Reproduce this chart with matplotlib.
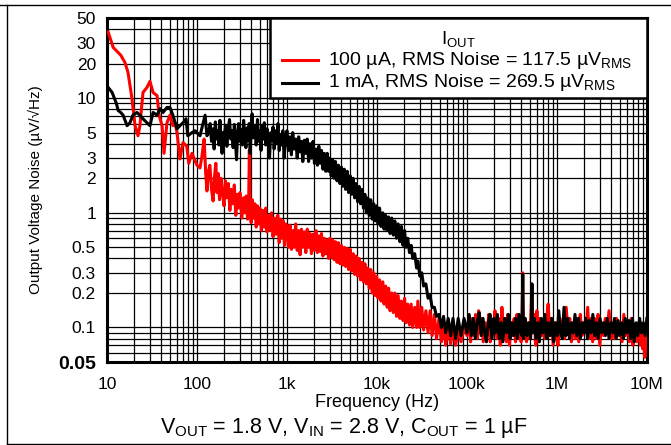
import matplotlib
matplotlib.use("Agg")
import matplotlib.pyplot as plt
from matplotlib.lines import Line2D
from matplotlib.patches import Rectangle
from matplotlib.ticker import FixedLocator, FixedFormatter, LogLocator, NullFormatter

plt.rcParams["font.family"] = ["Liberation Sans", "DejaVu Sans"]
plt.rcParams["mathtext.fontset"] = "custom"
plt.rcParams["mathtext.rm"] = "Liberation Sans"
plt.rcParams["mathtext.it"] = "Liberation Sans:italic"

# --- 100 uA trace (frequency Hz, noise uV/rtHz) ---
f_100ua = [10.3, 11.7, 14.2, 15.8, 17.1, 18.9, 20.5, 22.1, 23.2, 25.1, 27.8, 30, 32.5, 36, 37.9,
           40.9, 43, 46.4, 50, 54, 57, 60, 64.6, 70, 77, 81, 88, 100,
           108, 114, 120, 125, 129, 134, 139, 145, 151, 156, 162, 167, 172, 178, 185, 192, 200,
           207, 215, 223, 232, 240, 250, 260, 270, 280, 290, 300, 315, 328, 340, 352, 365, 375,
           382, 390, 400, 412, 425, 440, 455, 470, 485, 500, 520, 540, 560, 580, 600, 625, 650,
           675, 700, 730, 760, 790, 820, 850, 880, 910, 940, 970,
           1000, 1040, 1080, 1120, 1160, 1200, 1250, 1300, 1350, 1400, 1450, 1500, 1560, 1620,
           1680, 1740, 1800, 1870, 1950, 2020, 2100, 2180, 2260, 2340, 2420, 2510, 2600, 2700,
           2800, 2900, 3000, 3100, 3220, 3340, 3460, 3600, 3740, 3880, 4030, 4180, 4340, 4500,
           4680, 4860, 5050, 5250, 5450, 5650, 5870, 6100, 6330, 6570, 6820, 7080, 7350, 7630,
           7920, 8220, 8540, 8870, 9210, 9560, 9930, 10300, 10700, 11100, 11600, 12000, 12500,
           13000, 13500, 14000, 14600, 15200, 15800, 16500, 17200, 18000, 18700, 19500, 20300,
           21100, 22000, 23000, 24000, 25000, 26300, 27600, 28500, 30000, 31500, 33000, 35000,
           37000, 39000, 41000, 43500, 46000, 49000, 52000, 55000, 58000, 62000, 66000, 70000,
           75000, 80000, 86000, 93000,
           100e3, 105e3, 110e3, 115e3, 120e3, 125e3, 130e3, 135e3, 140e3, 145e3, 152e3, 160e3,
           167e3, 175e3, 182e3, 190e3, 197e3, 205e3, 215e3, 225e3, 235e3, 245e3, 255e3, 265e3,
           275e3, 285e3, 297e3, 310e3, 322e3, 335e3, 347e3, 360e3, 375e3, 390e3, 400e3, 410e3,
           417e3, 425e3, 442e3, 460e3, 480e3, 500e3, 515e3, 528e3, 540e3, 560e3, 580e3, 600e3,
           620e3, 650e3, 680e3, 710e3, 740e3, 770e3, 800e3, 835e3, 870e3, 910e3, 950e3, 990e3,
           1.03e6, 1.08e6, 1.12e6, 1.17e6, 1.22e6, 1.27e6, 1.33e6, 1.39e6, 1.45e6, 1.52e6,
           1.6e6, 1.67e6, 1.75e6, 1.82e6, 1.9e6, 2.0e6, 2.1e6, 2.2e6, 2.3e6, 2.4e6, 2.5e6,
           2.62e6, 2.75e6, 2.87e6, 3.0e6, 3.15e6, 3.3e6, 3.45e6, 3.6e6, 3.8e6, 4.0e6, 4.2e6,
           4.4e6, 4.6e6, 4.8e6, 5.05e6, 5.3e6, 5.55e6, 5.8e6, 6.1e6, 6.4e6, 6.7e6, 7.0e6, 7.35e6,
           7.7e6, 8.1e6, 8.5e6, 8.8e6, 9.0e6, 9.3e6, 9.5e6, 9.8e6, 10e6]
n_100ua = [37.7, 27.7, 23.7, 20.5, 16.8, 10, 5.75, 4.7, 5.75, 11.2, 12.4, 14.0, 11.2, 10.5, 7.1,
           5.75, 3.3, 6.1, 7.1, 5.75, 6.1, 5.0, 2.95, 4.1, 3.8, 2.7, 3.3, 2.6,
           2.46, 3.2, 4.4, 2.2, 1.55, 2.3, 2.6, 1.6, 1.27, 2.0, 2.7, 1.5, 2.2, 1.3, 2.0, 1.5, 1.15,
           1.9, 1.35, 1.8, 1.05, 1.6, 1.2, 1.75, 0.95, 1.45, 1.1, 1.5, 0.9, 1.35, 1.0, 1.4, 0.88, 1.2,
           3.5, 1.1, 0.82, 1.3, 0.9, 1.2, 0.75, 1.15, 0.8, 1.1, 0.7, 1.05, 0.75, 1.1, 0.68, 0.95, 0.7,
           1.0, 0.62, 0.9, 0.65, 0.95, 0.55, 0.88, 0.6, 0.85, 0.52, 0.8,
           0.72, 0.5, 0.78, 0.48, 0.7, 0.5, 0.8, 0.47, 0.7, 0.43, 0.72, 0.5, 0.68, 0.45,
           0.72, 0.5, 0.66, 0.44, 0.65, 0.47, 0.7, 0.45, 0.63, 0.46, 0.66, 0.42, 0.6, 0.44,
           0.58, 0.4, 0.6, 0.41, 0.58, 0.39, 0.56, 0.37, 0.55, 0.36, 0.52, 0.35, 0.5, 0.34,
           0.49, 0.32, 0.48, 0.31, 0.44, 0.29, 0.42, 0.28, 0.4, 0.26, 0.37, 0.25, 0.36, 0.24,
           0.33, 0.22, 0.32, 0.2, 0.3, 0.19, 0.28, 0.18, 0.26, 0.17, 0.25, 0.16, 0.23,
           0.15, 0.22, 0.14, 0.2, 0.135, 0.2, 0.125, 0.19, 0.12, 0.17, 0.115, 0.18,
           0.11, 0.16, 0.105, 0.16, 0.1, 0.15, 0.1, 0.17, 0.1, 0.15, 0.095, 0.14,
           0.09, 0.14, 0.085, 0.13, 0.08, 0.12, 0.075, 0.11, 0.07, 0.1, 0.072, 0.1,
           0.07, 0.095, 0.075, 0.1,
           0.085, 0.115, 0.075, 0.12, 0.085, 0.13, 0.08, 0.14, 0.09, 0.12, 0.075, 0.11,
           0.085, 0.13, 0.075, 0.115, 0.09, 0.14, 0.08, 0.12, 0.07, 0.15, 0.085, 0.12,
           0.075, 0.13, 0.07, 0.11, 0.085, 0.12, 0.075, 0.13, 0.08, 0.12, 0.075, 0.1,
           0.30, 0.09, 0.12, 0.075, 0.11, 0.08, 0.13, 0.24, 0.09, 0.13, 0.07, 0.14,
           0.075, 0.12, 0.085, 0.11, 0.08, 0.12, 0.16, 0.085, 0.12, 0.07, 0.11, 0.08,
           0.07, 0.12, 0.09, 0.11, 0.08, 0.15, 0.09, 0.12, 0.075, 0.11,
           0.08, 0.12, 0.075, 0.13, 0.085, 0.11, 0.09, 0.15, 0.08, 0.12, 0.075,
           0.12, 0.08, 0.13, 0.07, 0.11, 0.085, 0.12, 0.09, 0.14, 0.08, 0.11,
           0.08, 0.12, 0.085, 0.11, 0.075, 0.13, 0.085, 0.11, 0.075, 0.12, 0.07, 0.1,
           0.075, 0.11, 0.07, 0.1, 0.065, 0.09, 0.055, 0.08, 0.09]

# --- 1 mA trace ---
f_1ma = [10.3, 11.4, 12.7, 13.3, 14.2, 15.1, 16.7, 18, 19.4, 21.5, 23.2, 25.1, 27.8, 30, 32.5,
         36, 38.8, 41.9, 46.4, 50, 54, 60, 64.6, 70, 75.6, 79, 88, 95, 108, 123, 129,
         135, 140, 145, 150, 155, 160, 165, 170, 175, 180, 185, 190, 195, 200, 207, 215, 222,
         230, 237, 245, 252, 260, 268, 275, 283, 290, 300, 310, 320, 330, 340, 350, 360, 370,
         380, 390, 400, 410, 420, 440, 455, 470, 485, 500, 515, 530, 545, 560, 580, 600, 620,
         640, 660, 680, 700, 720, 745, 770, 795, 820, 845, 870, 900, 930, 965,
         1000, 1040, 1080, 1120, 1160, 1200, 1250, 1300, 1350, 1400, 1450, 1500, 1560, 1620,
         1680, 1740, 1800, 1870, 1950, 2020, 2100, 2180, 2260, 2340, 2420, 2510, 2600, 2700,
         2800, 2900, 3000, 3100, 3220, 3340, 3460, 3600, 3740, 3880, 4030, 4180, 4340, 4500,
         4680, 4860, 5050, 5250, 5450, 5650, 5870, 6100, 6330, 6570, 6820, 7080, 7350, 7630,
         7920, 8220, 8540, 8870, 9210, 9560, 9930, 10300, 10700, 11100, 11600, 12000, 12500,
         13000, 13500, 14000, 14600, 15200, 15800, 16500, 17200, 18000, 18700, 19500, 20300,
         21100, 22000, 23000, 24000, 25000, 26300, 27600, 28500, 30000, 31500, 33000, 35000,
         37000, 39000, 41000, 43500, 46000, 49000, 52000, 55000, 58000, 62000, 66000, 70000,
         75000, 80000, 86000, 93000,
         100e3, 106e3, 112e3, 118e3, 124e3, 130e3, 137e3, 144e3, 151e3, 158e3, 165e3, 173e3,
         181e3, 190e3, 199e3, 208e3, 218e3, 229e3, 240e3, 251e3, 263e3, 276e3, 289e3, 302e3,
         316e3, 331e3, 347e3, 363e3, 380e3, 398e3, 410e3, 417e3, 425e3, 445e3, 465e3, 488e3,
         510e3, 520e3, 528e3, 536e3, 560e3, 585e3, 612e3, 640e3, 670e3, 700e3, 733e3, 767e3,
         802e3, 840e3, 879e3, 920e3, 963e3, 1.01e6, 1.05e6, 1.1e6, 1.15e6, 1.2e6, 1.26e6,
         1.32e6, 1.38e6, 1.45e6, 1.52e6, 1.59e6, 1.66e6, 1.74e6, 1.82e6, 1.91e6, 2.0e6,
         2.09e6, 2.19e6, 2.29e6, 2.4e6, 2.51e6, 2.63e6, 2.75e6, 2.88e6, 3.02e6, 3.16e6,
         3.31e6, 3.47e6, 3.63e6, 3.8e6, 3.98e6, 4.17e6, 4.37e6, 4.57e6, 4.79e6, 5.01e6,
         5.25e6, 5.5e6, 5.75e6, 6.03e6, 6.31e6, 6.61e6, 6.92e6, 7.24e6, 7.59e6, 7.94e6,
         8.32e6, 8.71e6, 9.12e6, 9.55e6, 10e6]
n_1ma = [12.4, 11.2, 9.0, 7.8, 7.5, 7.1, 5.75, 6.1, 7.1, 7.5, 7.1, 6.6, 6.1, 5.75, 7.5,
         7.1, 8.1, 7.5, 8.3, 8.3, 7.1, 5.4, 5.75, 6.1, 6.6, 4.7, 5.0, 5.2, 4.7, 7.1, 4.7,
         5.0, 6.0, 4.2, 5.4, 3.6, 6.2, 4.4, 5.2, 3.9, 6.4, 4.6, 3.3, 5.0, 4.2, 5.8, 3.8, 5.4,
         6.5, 4.4, 5.2, 3.7, 5.9, 4.1, 2.9, 5.0, 6.0, 4.2, 5.3, 3.9, 6.4, 4.6, 3.7, 5.5, 4.3,
         6.0, 3.3, 5.4, 7.3, 4.5, 5.8, 3.9, 6.5, 4.2, 5.2, 3.5, 5.7, 4.4, 6.1, 3.9, 5.4, 4.1,
         3.0, 5.0, 4.3, 5.6, 3.6, 5.2, 4.0, 6.0, 3.5, 4.8, 3.9, 5.2, 3.0, 4.6,
         5.2, 3.5, 4.6, 3.2, 5.0, 3.6, 4.4, 3.0, 4.6, 3.4, 4.2, 2.8, 4.3, 3.3,
         4.4, 2.8, 4.0, 3.0, 4.2, 2.7, 3.6, 2.6, 3.8, 2.7, 3.5, 2.4, 3.3, 2.3,
         3.3, 2.3, 3.0, 2.1, 2.9, 2.0, 2.8, 1.9, 2.6, 1.8, 2.5, 1.7, 2.4, 1.6,
         2.3, 1.5, 2.1, 1.45, 2.0, 1.35, 1.8, 1.25, 1.7, 1.2, 1.6, 1.1, 1.45, 1.0,
         1.35, 0.95, 1.3, 0.88, 1.2, 0.85, 1.15, 0.8, 1.1, 0.76, 1.0, 0.72, 0.95,
         0.7, 0.92, 0.66, 0.9, 0.64, 0.85, 0.6, 0.8, 0.56, 0.76, 0.52, 0.7,
         0.5, 0.6, 0.45, 0.52, 0.4, 0.44, 0.33, 0.38, 0.28, 0.3, 0.23, 0.24,
         0.18, 0.19, 0.15, 0.15, 0.125, 0.13, 0.1, 0.125, 0.09, 0.12, 0.085, 0.12,
         0.08, 0.12, 0.085, 0.12,
         0.09, 0.13, 0.085, 0.12, 0.08, 0.11, 0.135, 0.085, 0.12, 0.09, 0.075, 0.11,
         0.13, 0.08, 0.12, 0.09, 0.13, 0.08, 0.11, 0.075, 0.12, 0.09, 0.13, 0.08,
         0.11, 0.085, 0.12, 0.08, 0.13, 0.09, 0.085, 0.29, 0.08, 0.12, 0.085, 0.11,
         0.08, 0.11, 0.24, 0.09, 0.12, 0.08, 0.11, 0.075, 0.12, 0.09, 0.13, 0.08,
         0.11, 0.085, 0.12, 0.075, 0.11, 0.085, 0.14, 0.09, 0.08, 0.15, 0.085,
         0.12, 0.08, 0.11, 0.09, 0.13, 0.085, 0.12, 0.08, 0.11, 0.09,
         0.12, 0.08, 0.115, 0.09, 0.13, 0.085, 0.11, 0.08, 0.12, 0.09,
         0.11, 0.085, 0.12, 0.08, 0.11, 0.09, 0.12, 0.08, 0.115, 0.085,
         0.11, 0.08, 0.12, 0.09, 0.115, 0.08, 0.12, 0.075, 0.11, 0.085,
         0.12, 0.09, 0.11, 0.085, 0.12]

x_ticks = [10, 100, 1e3, 1e4, 1e5, 1e6, 1e7]
x_labels = ["10", "100", "1k", "10k", "100k", "1M", "10M"]
y_ticks = [0.05, 0.1, 0.2, 0.3, 0.5, 1, 2, 3, 5, 10, 20, 30, 50]
y_labels = ["0.05", "0.1", "0.2", "0.3", "0.5", "1", "2", "3", "5", "10", "20", "30", "50"]

fig = plt.figure(figsize=(6.71, 4.45), dpi=100)
ax = fig.add_axes([0.1595, 0.1865, 0.8045, 0.7731])

ax.plot(f_100ua, n_100ua, color="#ff0000", lw=2.2, zorder=3)
ax.plot(f_1ma, n_1ma, color="black", lw=2.2, zorder=4)

ax.set_xscale("log")
ax.set_yscale("log")
ax.set_xlim(10, 1e7)
ax.set_ylim(0.05, 50)

ax.xaxis.set_major_locator(FixedLocator(x_ticks))
ax.xaxis.set_major_formatter(FixedFormatter(x_labels))
ax.xaxis.set_minor_locator(LogLocator(base=10, subs=range(2, 10), numticks=20))
ax.xaxis.set_minor_formatter(NullFormatter())
ax.yaxis.set_major_locator(FixedLocator(y_ticks))
ax.yaxis.set_major_formatter(FixedFormatter(y_labels))
ax.yaxis.set_minor_locator(LogLocator(base=10, subs=range(1, 10), numticks=20))
ax.yaxis.set_minor_formatter(NullFormatter())

ax.grid(which="both", color="black", lw=0.9)
ax.tick_params(which="both", length=0, labelsize=12.5)
ax.tick_params(axis="x", pad=11)
ax.tick_params(axis="y", pad=8)
lab005 = ax.get_yticklabels()[0]
lab005.set_fontweight("bold")
lab005.set_fontsize(14)
for s in ax.spines.values():
    s.set_linewidth(2.2)

ax.set_xlabel("Frequency (Hz)", fontsize=13, labelpad=1)
ax.set_ylabel("Output Voltage Noise (µV/√Hz)", fontsize=11, labelpad=11)

# legend box (drawn by hand so the rows sit as tight as in the reference)
ax.add_patch(Rectangle((0.302, 0.767), 0.698, 0.233, transform=ax.transAxes,
                       facecolor="white", edgecolor="black", lw=1.8, zorder=10, clip_on=False))
ax.text(0.65, 0.94, "I$_{\\mathrm{OUT}}$", transform=ax.transAxes, ha="center", va="center",
        fontsize=13.5, zorder=11)
leg_rows = [("#ff0000", "100 µA, RMS Noise = 117.5 µV$_{\\mathrm{RMS}}$", 0.877),
            ("black", "1 mA, RMS Noise = 269.5 µV$_{\\mathrm{RMS}}$", 0.812)]
for col, txt, yy in leg_rows:
    ax.add_line(Line2D([0.324, 0.391], [yy, yy], transform=ax.transAxes, color=col, lw=2.2,
                       zorder=11, clip_on=False))
    ax.text(0.409, yy, txt, transform=ax.transAxes, ha="left", va="center",
            fontsize=14, zorder=11)

fig.text(0.513, 0.038, "V$_{\\mathrm{OUT}}$ = 1.8 V, V$_{\\mathrm{IN}}$ = 2.8 V, C$_{\\mathrm{OUT}}$ = 1 µF",
         ha="center", va="center", fontsize=15.5)

# outer frame of the figure
fig.add_artist(Line2D([0, 1], [0.989, 0.989], color="black", lw=1.0, transform=fig.transFigure))
fig.add_artist(Line2D([0.0105, 0.0105], [0, 0.989], color="black", lw=1.0, transform=fig.transFigure))
fig.add_artist(Line2D([0.0105, 1], [0.003, 0.003], color="black", lw=1.0, transform=fig.transFigure))

fig.savefig("out.png", dpi=100)
